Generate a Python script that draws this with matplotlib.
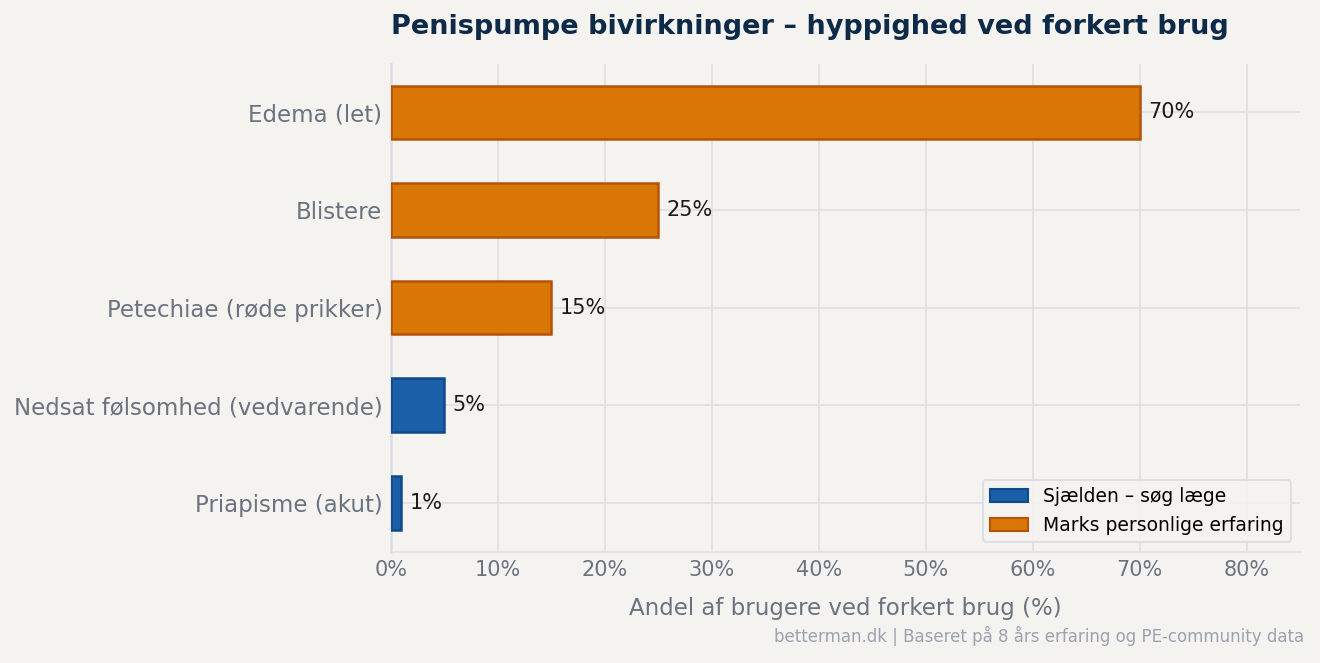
import matplotlib
matplotlib.use('Agg')
import matplotlib.pyplot as plt
from matplotlib.patches import Patch

# Data
categories = ["Edema (let)", "Blistere", "Petechiae (røde prikker)",
              "Nedsat følsomhed (vedvarende)", "Priapisme (akut)"]
values = [70, 25, 15, 5, 1]
groups = ["erfaring", "erfaring", "erfaring", "sjaelden", "sjaelden"]
xticks = [0, 10, 20, 30, 40, 50, 60, 70, 80]

BG = "#f4f3ef"
BLUE, BLUE_EDGE = "#1a5fa8", "#0f4a8a"
ORANGE, ORANGE_EDGE = "#d97706", "#b45309"
GREY = "#6b7280"

fig = plt.figure(figsize=(8.8, 4.42), dpi=150, facecolor=BG)
ax = fig.add_axes([0.296, 0.168, 0.689, 0.736], facecolor=BG)

face = [BLUE if g == "sjaelden" else ORANGE for g in groups]
edge = [BLUE_EDGE if g == "sjaelden" else ORANGE_EDGE for g in groups]
ypos = list(range(len(categories)))
bars = ax.barh(ypos, values, height=0.55, color=face, edgecolor=edge, linewidth=1.2, zorder=3)

for b, v in zip(bars, values):
    ax.text(b.get_width() + 0.8, b.get_y() + b.get_height() / 2, f"{v}%",
            va="center", ha="left", fontsize=10, color="#1a1a1a", zorder=4)

ax.set_yticks(ypos)
ax.set_yticklabels(categories, fontsize=11, color=GREY)
ax.set_ylim(4.5, -0.5)
ax.set_xlim(0, 85)
ax.set_xticks(xticks)
ax.set_xticklabels([f"{t}%" for t in xticks], fontsize=10, color=GREY)
ax.tick_params(axis="both", length=0, pad=4)
ax.grid(True, color="#e0dfdb", linewidth=0.8, zorder=0)
ax.set_axisbelow(True)
for s in ["top", "right"]:
    ax.spines[s].set_visible(False)
ax.spines["left"].set_color("#dcdde3")
ax.spines["bottom"].set_color("#e0dfdb")
ax.spines["left"].set_linewidth(1.2)

ax.set_xlabel("Andel af brugere ved forkert brug (%)", fontsize=11, color=GREY, labelpad=8)
ax.set_title("Penispumpe bivirkninger – hyppighed ved forkert brug", fontsize=13,
             fontweight="bold", color="#0d2a48", pad=14, x=0.461)

handles = [Patch(facecolor=BLUE, edgecolor=BLUE_EDGE, label="Sjælden – søg læge"),
           Patch(facecolor=ORANGE, edgecolor=ORANGE_EDGE, label="Marks personlige erfaring")]
leg = ax.legend(handles=handles, loc="lower right", fontsize=9, frameon=True,
                facecolor="#f4f3ef", edgecolor="#dcdde3", framealpha=0.9)

fig.text(0.988, 0.025, "betterman.dk | Baseret på 8 års erfaring og PE-community data",
         ha="right", va="bottom", fontsize=8, color="#9ca3af")

fig.savefig("out.png", dpi=150, facecolor=BG)
